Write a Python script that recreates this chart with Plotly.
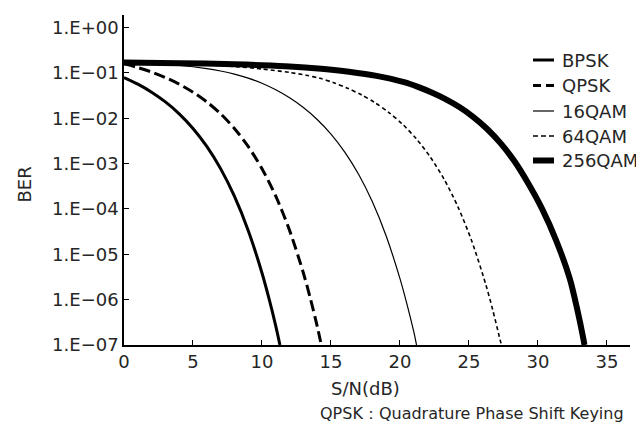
import plotly.graph_objects as go

# ---- data ----
bpsk_x = [0, 1, 2, 3, 4, 5, 6, 7, 8, 9, 10, 10.5, 11, 11.3]
bpsk_y = [0.07865, 0.05628, 0.03751, 0.02288, 0.0125, 0.005954, 0.002388, 7.727e-4,
          1.909e-4, 3.363e-5, 3.872e-6, 1.08e-6, 2.613e-7, 1.0e-7]

qpsk_x = [0, 1, 2, 3, 4, 5, 6, 7, 8, 9, 10, 11, 12, 13, 13.5, 14, 14.3]
qpsk_y = [0.1587, 0.1309, 0.104, 0.07865, 0.05628, 0.03751, 0.02288, 0.0125, 0.005954,
          0.002388, 7.727e-4, 1.909e-4, 3.363e-5, 3.872e-6, 1.08e-6, 2.613e-7, 1.0e-7]

qam16_x = [0, 2, 4, 6, 7, 8, 9, 10, 11, 12, 13, 14, 15, 16, 17, 18, 19, 20, 20.5, 21, 21.2]
qam16_y = [0.1644, 0.1574, 0.1452, 0.1236, 0.1096, 0.0938, 0.0766, 0.0590, 0.0422, 0.0281,
           0.01716, 0.009375, 0.004466, 0.001791, 5.795e-4, 1.432e-4, 2.522e-5, 2.904e-6,
           8.1e-7, 1.96e-7, 1.0e-7]

qam64_x = [0, 2, 4, 6, 8, 10, 12, 13.2, 14.2, 15.2, 16.2, 17.2, 18.2, 19.2, 20.2, 21.2,
           22.2, 23.2, 24.2, 25.2, 26.2, 26.7, 27.2, 27.35]
qam64_y = [0.1679, 0.1641, 0.1585, 0.1496, 0.1380, 0.1216, 0.1021, 0.0885, 0.0757, 0.0605,
           0.04585, 0.0328, 0.02187, 0.01334, 0.007288, 0.003471, 0.001392, 4.505e-4,
           1.113e-4, 1.961e-5, 2.257e-6, 6.3e-7, 1.523e-7, 1.0e-7]

qam256_x = [0, 4, 8, 10, 12, 14.3, 16.3, 18.3, 20.3, 21.3, 22.3, 23.3, 24.3, 25.3, 26.3,
            27.3, 28.3, 29.3, 30.3, 31.3, 32.3, 32.8, 33.3, 33.37]
qam256_y = [0.1698, 0.1637, 0.1545, 0.1476, 0.1387, 0.1227, 0.1057, 0.0859, 0.0622, 0.0490,
            0.03689, 0.0264, 0.01759, 0.01073, 0.005863, 0.002792, 0.00112, 3.624e-4,
            1.0e-4, 2.09e-5, 2.95e-6, 7.08e-7, 1.32e-7, 1.0e-7]

series_names = ["BPSK", "QPSK", "16QAM", "64QAM", "256QAM"]
x_ticks = [0, 5, 10, 15, 20, 25, 30, 35]
y_tickvals = [1, 1e-1, 1e-2, 1e-3, 1e-4, 1e-5, 1e-6, 1e-7]
y_ticktext = ["1.E+00", "1.E\u221201", "1.E\u221202", "1.E\u221203", "1.E\u221204",
              "1.E\u221205", "1.E\u221206", "1.E\u221207"]

# ---- styles ----
styles = [
    dict(width=3, dash="solid"),
    dict(width=3, dash="11px,5px"),
    dict(width=1.2, dash="solid"),
    dict(width=1.6, dash="4px,3px"),
    dict(width=6, dash="solid"),
]
legend_dash = ["solid", "8px,5px", "solid", "5px,3px", "solid"]

FONT = "DejaVu Sans"
TXT = "#262626"

fig = go.Figure()
for xs, ys, st in zip([bpsk_x, qpsk_x, qam16_x, qam64_x, qam256_x],
                      [bpsk_y, qpsk_y, qam16_y, qam64_y, qam256_y], styles):
    fig.add_trace(go.Scatter(x=xs, y=ys, mode="lines",
                             line=dict(color="black", width=st["width"], dash=st["dash"],
                                       shape="spline", smoothing=0.8),
                             showlegend=False, hoverinfo="skip"))

# plot-area pixel geometry
L, R, T, B = 116, 22, 7, 88
W, H = 644, 425
PW, PH = W - L - R, H - T - B


def px(xp):
    return (xp - L) / PW


def py(yp):
    return (H - B - yp) / PH


# manual legend
leg_y = [52, 77.5, 103, 128, 152.5]
for name, st, dsh, yy in zip(series_names, styles, legend_dash, leg_y):
    fig.add_shape(type="line", xref="paper", yref="paper",
                  x0=px(525), x1=px(546), y0=py(yy), y1=py(yy),
                  line=dict(color="black", width=max(st["width"], 1.2), dash=dsh))
    fig.add_annotation(xref="paper", yref="paper", x=px(552), y=py(yy), text=name,
                       showarrow=False, xanchor="left", yanchor="middle",
                       font=dict(family=FONT, size=18, color=TXT))

fig.add_annotation(xref="paper", yref="paper", x=px(357), y=py(380), text="S/N(dB)",
                   showarrow=False, xanchor="center", yanchor="middle",
                   font=dict(family=FONT, size=18, color=TXT))
fig.add_annotation(xref="paper", yref="paper", x=px(618), y=py(406),
                   text="QPSK\uff1aQuadrature Phase Shift Keying",
                   showarrow=False, xanchor="right", yanchor="middle",
                   font=dict(family=FONT, size=16, color=TXT))
fig.add_annotation(xref="paper", yref="paper", x=px(15.5), y=py(177), text="BER",
                   textangle=-90, showarrow=False, xanchor="center", yanchor="middle",
                   font=dict(family=FONT, size=18, color=TXT))

fig.update_layout(
    width=W, height=H,
    margin=dict(l=L, r=R, t=T, b=B, pad=0),
    paper_bgcolor="white", plot_bgcolor="white",
    font=dict(family=FONT, size=18, color=TXT),
    xaxis=dict(range=[0, 36.67], tickvals=x_ticks, ticks="inside", ticklen=5,
               tickwidth=1, tickcolor="black", showline=True, linecolor="black",
               linewidth=1.5, showgrid=False, zeroline=False,
               tickfont=dict(family=FONT, size=18, color=TXT)),
    yaxis=dict(type="log", range=[-7, 0.275], tickvals=y_tickvals, ticktext=y_ticktext,
               ticks="inside", ticklen=5, tickwidth=1, tickcolor="black",
               showline=True, linecolor="black", linewidth=1.5, showgrid=False,
               zeroline=False, tickfont=dict(family=FONT, size=18, color=TXT)),
)

fig.write_html("out.html")
